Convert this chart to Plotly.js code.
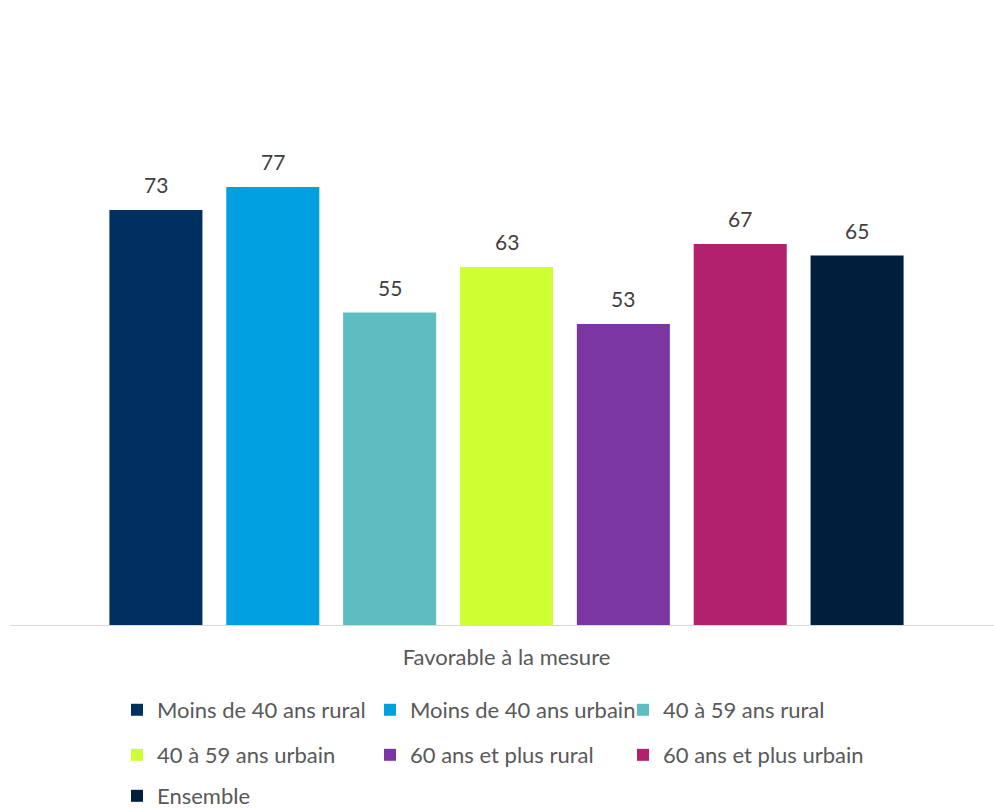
<!DOCTYPE html>
<html>
<head>
<meta charset="utf-8">
<script src="https://cdn.plot.ly/plotly-3.0.1.min.js"></script>
<style>html,body{margin:0;padding:0;background:#fff;}#chart{width:994px;height:809px;}</style>
</head>
<body>
<div id="chart"></div>
<script>
const category = "Favorable à la mesure";
const seriesNames = [
  "Moins de 40 ans rural",
  "Moins de 40 ans urbain",
  "40 à 59 ans rural",
  "40 à 59 ans urbain",
  "60 ans et plus rural",
  "60 ans et plus urbain",
  "Ensemble"
];
const seriesValues = [73, 77, 55, 63, 53, 67, 65];
const seriesColors = ["#00305F", "#00A0E1", "#5EBEBF", "#CDFF33", "#7B36A1", "#B1216D", "#001F3D"];
const legendRows = ["legend", "legend", "legend", "legend2", "legend2", "legend2", "legend3"];

const FONT = "Lato, 'Open Sans', sans-serif";
const bargap = 0.161;
const n = seriesNames.length;

const traces = seriesNames.map((name, i) => ({
  type: "bar",
  name: name,
  x: [category],
  y: [seriesValues[i]],
  marker: {color: seriesColors[i]},
  legend: legendRows[i],
  hoverinfo: "name+y"
}));

const slot = (1 - bargap) / n;
const annotations = seriesValues.map((v, i) => ({
  x: (i - (n - 1) / 2) * slot,
  y: v,
  xref: "x", yref: "y",
  text: String(v),
  showarrow: false,
  yanchor: "bottom",
  yshift: 11,
  font: {family: FONT, size: 21, color: "#404040"}
}));

const legendBase = {
  orientation: "h",
  x: 0.1005,
  xanchor: "left",
  yanchor: "middle",
  entrywidth: 208,
  font: {family: FONT, size: 22, color: "#595959"},
  bgcolor: "rgba(0,0,0,0)",
  borderwidth: 0,
  traceorder: "normal"
};

const layout = {
  width: 994,
  height: 809,
  margin: {l: 19, r: 0, t: 113, b: 183, autoexpand: false},
  paper_bgcolor: "#ffffff",
  plot_bgcolor: "#ffffff",
  barmode: "group",
  bargap: bargap,
  bargroupgap: 0.204,
  showlegend: true,
  xaxis: {
    type: "category",
    range: [-0.5, 0.5],
    showline: false,
    showgrid: false,
    zeroline: false,
    ticks: "",
    ticklabelstandoff: 16,
    tickfont: {family: FONT, size: 22, color: "#595959"}
  },
  yaxis: {
    range: [0, 90],
    visible: false,
    showgrid: false,
    zeroline: false
  },
  shapes: [{
    type: "line",
    xref: "paper", yref: "y",
    x0: -0.0092, x1: 1, y0: 0, y1: 0,
    line: {color: "#D9D9D9", width: 2}
  }],
  annotations: annotations,
  legend: Object.assign({}, legendBase, {y: -0.1637}),
  legend2: Object.assign({}, legendBase, {y: -0.2515}),
  legend3: Object.assign({}, legendBase, {y: -0.3314})
};

Plotly.newPlot("chart", traces, layout, {displayModeBar: false, staticPlot: true});
</script>
</body>
</html>
